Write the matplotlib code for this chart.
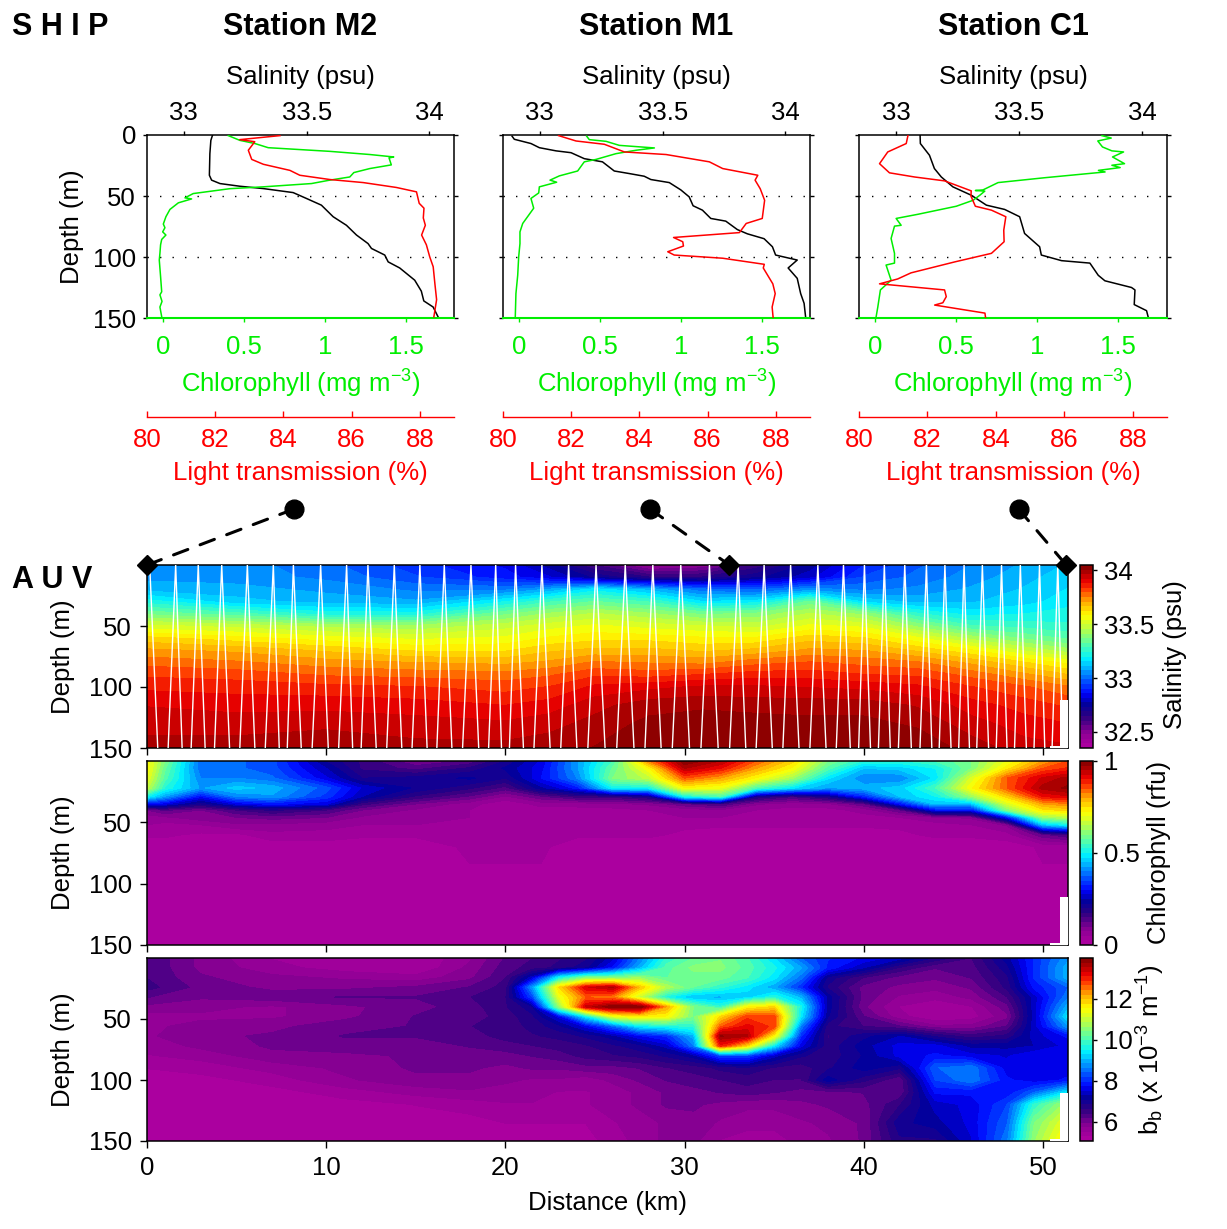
import numpy as np
import matplotlib
matplotlib.use('Agg')
import matplotlib.pyplot as plt
from matplotlib.colors import LinearSegmentedColormap
from matplotlib.patches import ConnectionPatch, Rectangle

plt.rcParams['font.family'] = ['Liberation Sans', 'DejaVu Sans']
plt.rcParams['mathtext.default'] = 'regular'

# ---- ship profiles ----
stations = ['Station M2', 'Station M1', 'Station C1']

m2_sal = [33.117, 33.110, 33.106, 33.104, 33.113, 33.147, 33.228, 33.323, 33.445, 33.499, 33.560, 33.608, 33.662, 33.703, 33.750, 33.764, 33.818, 33.832, 33.879, 33.940, 33.967, 33.977, 34.015, 34.035]
m2_sal_z = [0, 4.4, 15.3, 33, 37, 39.8, 42, 43.9, 47.2, 52, 57.5, 67, 74, 82, 89, 93, 98.4, 104, 109, 119, 128, 136, 141, 149]
m2_chl = [.403, .475, .568, .650, 1.031, 1.279, 1.427, 1.398, 1.412, 1.279, 1.180, 1.155, 1.031, .918, .619, .413, .186, .135, .176, .094, .042, .017, .001, .011, -.003, .017, -.009, -.016, -.020, -.024, -.016, -.009, -.020, -.007, -.020, -.009]
m2_chl_z = [.5, 4.4, 7, 10.4, 13.4, 16, 18, 18.8, 24.5, 27.5, 30.8, 34.4, 37, 39.8, 42.5, 44, 48, 51.5, 52.4, 55.6, 61, 67, 73, 76, 79.4, 82, 85.6, 90, 97, 102.5, 116, 128.5, 131, 136.4, 141, 149]
m2_lt = [83.90, 82.72, 83.16, 82.97, 83.07, 83.41, 84.19, 84.48, 85.36, 86.34, 87.31, 87.90, 87.98, 88.12, 88.10, 88.16, 88.05, 88.19, 88.29, 88.39, 88.44, 88.49, 88.41]
m2_lt_z = [.5, 3.8, 5.5, 12.5, 20, 24, 29, 33, 36.5, 39, 43, 46.6, 56, 60, 68, 74, 82, 90, 100, 108, 122, 135, 149]

m1_sal = [32.887, 32.896, 32.964, 32.998, 33.066, 33.127, 33.181, 33.255, 33.303, 33.364, 33.425, 33.452, 33.527, 33.574, 33.608, 33.624, 33.662, 33.696, 33.757, 33.804, 33.845, 33.913, 33.947, 33.960, 34.048, 34.011, 34.048, 34.062, 34.076, 34.082]
m1_sal_z = [1, 3.5, 7, 10.4, 13, 14.5, 19.4, 22, 29.5, 31.6, 33.8, 36.5, 39, 45, 50.7, 58, 61.6, 68.4, 70.6, 77.5, 81, 85, 91.6, 98.4, 102.5, 109, 117.5, 130, 138, 149]
m1_chl = [.418, .434, .538, .620, .837, .723, .599, .476, .403, .362, .249, .191, .232, .125, .121, .073, .090, .059, .022, .005, .005, -.003, -.009, -.020, -.024]
m1_chl_z = [1, 3.8, 5.2, 8.5, 10.6, 12.5, 15.3, 20, 22, 29.5, 33.5, 37, 38.7, 42.5, 47.5, 52, 60, 65.7, 72.5, 79.4, 89, 100, 115, 130, 149]
m1_lt = [81.63, 82.14, 82.97, 83.56, 84.78, 86.05, 86.44, 87.47, 87.39, 87.54, 87.67, 87.60, 87.13, 86.93, 85.00, 85.27, 85.29, 84.83, 85.02, 86.44, 87.66, 87.63, 87.91, 87.98, 87.89, 87.92]
m1_lt_z = [.5, 4.9, 7.6, 13.9, 16, 22, 27.5, 33, 37, 44, 53.5, 68.4, 72.5, 80, 84, 87.5, 91, 95.7, 98.4, 101, 106, 109, 122, 130, 141, 150]

c1_sal = [33.098, 33.099, 33.136, 33.156, 33.184, 33.231, 33.306, 33.367, 33.441, 33.502, 33.522, 33.583, 33.590, 33.672, 33.787, 33.821, 33.848, 33.956, 33.970, 33.967, 34.017, 34.024]
c1_sal_z = [.5, 7, 16.6, 27.5, 34.4, 42.5, 49.4, 57.5, 61, 67, 80.7, 91.6, 98.4, 103, 105, 115, 119.5, 125, 127, 139, 144, 149.5]
c1_chl = [1.398, 1.456, 1.373, 1.402, 1.460, 1.532, 1.464, 1.538, 1.460, 1.511, 1.377, 1.418, 1.047, .758, .665, .618, .676, .645, .604, .500, .263, .129, .160, .119, .098, .119, .119, .067, .098, .032, .016, .005]
c1_chl_z = [.5, 2.5, 4.9, 9.8, 13, 13.9, 18, 23.5, 24.8, 26.7, 29, 30.3, 35, 39, 45, 45.5, 46, 49.4, 53.5, 58.4, 65, 68.4, 74, 74.7, 84.8, 97, 105, 106.6, 119, 127, 141, 149.5]
c1_lt = [81.43, 81.38, 80.84, 80.60, 80.89, 81.62, 82.50, 83.28, 83.27, 83.40, 83.87, 84.29, 84.23, 84.24, 83.87, 82.80, 81.52, 81.13, 80.60, 82.50, 82.55, 82.45, 82.21, 83.68, 83.70]
c1_lt_z = [.5, 7, 13.9, 23.5, 31, 34.4, 37.6, 45.8, 50, 58.4, 61.6, 67, 78, 87.5, 97, 104, 113, 118, 122, 127, 132.5, 137.5, 139.4, 146, 150]

ship_profiles = [
    (m2_sal, m2_sal_z, m2_chl, m2_chl_z, m2_lt, m2_lt_z),
    (m1_sal, m1_sal_z, m1_chl, m1_chl_z, m1_lt, m1_lt_z),
    (c1_sal, c1_sal_z, c1_chl, c1_chl_z, c1_lt, c1_lt_z),
]

sal_ticks = [33, 33.5, 34]
chl_ticks = [0, 0.5, 1, 1.5]
lt_ticks = [80, 82, 84, 86, 88]
depth_ticks = [0, 50, 100, 150]

# where each ship station sits on the AUV section (km)
station_km = [0, 32.5, 51.3]

# ---- AUV sections ----
sal_km = [0, 5, 10, 15, 20, 22.5, 25, 28, 31, 34, 37, 40, 43, 46, 49, 51.4]
sal_depth = [0, 10, 20, 30, 40, 50, 60, 70, 80, 90, 100, 115, 130, 150]
auv_sal = [
    [33.05, 33.05, 33.00, 32.92, 32.85, 32.75, 32.60, 32.45, 32.48, 32.62, 32.75, 32.90, 32.98, 33.03, 33.08, 33.12],
    [33.06, 33.05, 33.02, 32.95, 32.88, 32.82, 32.72, 32.65, 32.65, 32.72, 32.80, 32.95, 33.00, 33.05, 33.10, 33.14],
    [33.10, 33.09, 33.06, 33.02, 33.02, 33.08, 33.18, 33.10, 33.00, 32.98, 33.05, 33.02, 33.04, 33.08, 33.12, 33.16],
    [33.22, 33.13, 33.10, 33.08, 33.20, 33.28, 33.33, 33.28, 33.16, 33.18, 33.34, 33.15, 33.10, 33.11, 33.14, 33.18],
    [33.36, 33.30, 33.22, 33.22, 33.36, 33.42, 33.46, 33.42, 33.36, 33.38, 33.46, 33.40, 33.25, 33.18, 33.20, 33.22],
    [33.51, 33.48, 33.44, 33.42, 33.48, 33.52, 33.55, 33.52, 33.50, 33.48, 33.55, 33.53, 33.40, 33.29, 33.27, 33.25],
    [33.64, 33.60, 33.56, 33.53, 33.55, 33.59, 33.61, 33.61, 33.59, 33.59, 33.65, 33.63, 33.55, 33.44, 33.36, 33.32],
    [33.72, 33.70, 33.66, 33.62, 33.62, 33.66, 33.68, 33.68, 33.66, 33.68, 33.72, 33.71, 33.66, 33.59, 33.49, 33.43],
    [33.78, 33.76, 33.73, 33.71, 33.70, 33.72, 33.76, 33.75, 33.74, 33.78, 33.80, 33.78, 33.76, 33.70, 33.63, 33.57],
    [33.83, 33.82, 33.79, 33.78, 33.77, 33.79, 33.83, 33.82, 33.84, 33.86, 33.86, 33.84, 33.83, 33.78, 33.72, 33.67],
    [33.87, 33.86, 33.85, 33.84, 33.82, 33.84, 33.89, 33.91, 33.93, 33.93, 33.92, 33.91, 33.89, 33.84, 33.80, 33.76],
    [33.92, 33.91, 33.91, 33.90, 33.88, 33.90, 33.95, 33.99, 34.00, 33.99, 33.99, 33.99, 33.96, 33.90, 33.86, 33.83],
    [33.95, 33.94, 33.95, 33.94, 33.93, 33.95, 33.98, 34.02, 34.03, 34.03, 34.02, 34.02, 34.00, 33.94, 33.90, 33.88],
    [33.98, 33.99, 34.01, 33.98, 33.98, 33.99, 34.01, 34.05, 34.06, 34.06, 34.05, 34.06, 34.04, 33.99, 33.94, 33.93],
]

chl_km = [0, 1, 3, 5, 7, 10, 12, 15, 18, 20, 22, 24, 26, 28, 30, 32, 34, 36, 38, 40, 42, 44, 46, 48, 50, 51.4]
chl_depth = [0, 6, 14, 22, 29, 35, 40, 46, 52, 60, 70, 150]
auv_chl = [
    [.72, .60, .38, .38, .36, .22, .17, .10, .13, .20, .28, .42, .55, .82, 1.0, .95, .85, .76, .60, .52, .52, .55, .60, .70, .80, .85],
    [.72, .58, .38, .38, .36, .25, .17, .14, .18, .23, .29, .42, .58, .72, .95, .90, .80, .72, .56, .45, .46, .50, .60, .74, .85, .88],
    [.70, .56, .40, .40, .38, .28, .20, .21, .23, .20, .30, .40, .60, .66, .85, .80, .72, .63, .48, .40, .40, .48, .68, .85, .93, .96],
    [.66, .52, .42, .46, .44, .36, .27, .22, .18, .14, .24, .31, .50, .50, .72, .70, .55, .48, .42, .44, .46, .55, .72, .85, .96, .98],
    [.50, .42, .30, .40, .42, .34, .25, .17, .12, .07, .12, .16, .16, .20, .50, .55, .20, .15, .20, .32, .45, .50, .62, .76, .90, .92],
    [.30, .28, .20, .28, .31, .28, .16, .10, .06, .03, .06, .06, .07, .08, .12, .15, .08, .06, .07, .12, .30, .45, .45, .68, .80, .82],
    [.10, .13, .10, .15, .18, .15, .10, .07, .05, .04, .04, .04, .04, .05, .06, .07, .05, .04, .04, .06, .12, .30, .30, .60, .74, .76],
    [.06, .07, .09, .10, .11, .10, .07, .06, .05, .04, .04, .04, .04, .04, .05, .05, .04, .04, .04, .04, .05, .07, .08, .30, .62, .65],
    [.05, .04, .05, .07, .07, .06, .05, .05, .04, .04, .04, .04, .04, .04, .03, .03, .03, .03, .03, .03, .03, .04, .05, .08, .45, .50],
    [.03, .03, .02, .02, .04, .04, .03, .03, .03, .03, .03, .03, .03, .03, .02, .01, .01, .01, .01, .01, .02, .03, .03, .04, .12, .15],
    [.01, .01, .01, .01, .01, .01, .01, .01, .03, .03, .03, .01, .01, .01, .01, .01, .01, .01, .01, .01, .01, .01, .01, .01, .03, .03],
    [.00, .00, .00, .00, .00, .00, .00, .00, .00, .00, .00, .00, .00, .00, .00, .00, .00, .00, .00, .00, .00, .00, .00, .00, .00, .00],
]

bb_km = [0, 3, 7, 11, 15, 18, 20, 21.5, 23, 24.5, 26, 27.5, 29, 30.5, 32, 33.5, 35, 36.5, 38, 40, 42, 44, 46, 48, 49.5, 51.4]
bb_depth = [0, 8, 16, 24, 32, 40, 48, 56, 64, 72, 80, 90, 100, 110, 120, 135, 150]
auv_bb = [
    [6.4, 5.9, 5.5, 5.3, 5.3, 5.7, 6.2, 6.4, 6.6, 6.8, 7.4, 8.6, 9.8, 10.2, 10.4, 10.0, 9.3, 8.4, 8.0, 7.7, 7.4, 6.8, 6.4, 7.2, 8.0, 8.8],
    [6.4, 5.9, 5.6, 5.4, 5.3, 5.8, 6.3, 6.5, 6.7, 7.0, 7.8, 9.0, 10.1, 10.5, 10.5, 10.1, 9.6, 8.9, 7.9, 7.3, 6.6, 6.2, 6.3, 7.0, 8.0, 9.0],
    [6.4, 6.0, 5.8, 5.7, 5.6, 5.9, 6.4, 7.4, 9.5, 10.4, 10.4, 10.6, 10.2, 10.3, 10.3, 10.0, 9.4, 8.5, 7.0, 6.4, 6.1, 6.0, 6.2, 6.8, 8.0, 9.0],
    [6.5, 6.1, 5.9, 5.9, 6.0, 6.2, 6.5, 8.8, 11.8, 13.3, 13.6, 12.0, 10.8, 10.2, 9.8, 9.4, 8.9, 8.0, 6.8, 6.1, 5.9, 5.8, 6.0, 6.7, 7.8, 8.4],
    [6.2, 6.0, 6.1, 6.2, 6.2, 6.4, 6.6, 8.2, 11.3, 12.6, 12.4, 11.0, 9.6, 9.0, 9.0, 9.2, 9.7, 9.0, 7.2, 6.1, 5.7, 5.6, 5.8, 6.4, 7.4, 8.6],
    [5.9, 5.8, 5.7, 5.9, 6.1, 6.3, 6.6, 7.0, 10.6, 13.4, 14.0, 14.0, 12.2, 10.4, 9.8, 11.5, 11.8, 9.6, 7.2, 6.0, 5.5, 5.3, 5.5, 6.1, 7.4, 9.0],
    [5.6, 5.7, 5.7, 5.9, 6.2, 6.3, 6.5, 6.8, 7.6, 9.4, 11.2, 11.6, 11.5, 10.4, 11.8, 12.8, 12.8, 9.4, 7.1, 6.2, 5.6, 5.3, 5.4, 5.9, 7.4, 9.4],
    [5.7, 5.8, 5.9, 6.1, 6.2, 6.4, 6.5, 6.7, 7.0, 7.6, 8.4, 9.4, 9.6, 9.8, 12.6, 13.2, 12.8, 8.6, 6.7, 6.4, 6.2, 5.8, 5.8, 6.2, 7.4, 8.8],
    [5.7, 5.9, 6.0, 6.2, 6.2, 6.3, 6.5, 6.6, 6.7, 6.9, 7.2, 7.7, 8.0, 9.0, 13.8, 13.6, 11.5, 8.0, 6.6, 7.0, 7.3, 6.8, 6.5, 6.7, 7.4, 7.8],
    [5.6, 5.8, 6.0, 6.1, 6.1, 6.2, 6.3, 6.4, 6.5, 6.6, 6.8, 7.0, 7.4, 8.6, 13.0, 11.8, 9.4, 7.6, 6.7, 7.2, 7.6, 7.6, 7.2, 7.2, 7.3, 7.6],
    [5.5, 5.6, 5.9, 5.9, 6.0, 6.1, 6.1, 6.2, 6.3, 6.5, 6.6, 6.7, 6.9, 7.2, 8.2, 8.2, 7.4, 6.9, 6.7, 7.1, 7.6, 7.8, 7.6, 7.5, 7.7, 7.6],
    [5.3, 5.4, 5.6, 5.8, 6.0, 6.0, 5.9, 6.0, 6.0, 6.1, 6.1, 6.2, 6.4, 6.5, 6.7, 6.8, 6.6, 6.5, 6.8, 7.2, 6.9, 8.4, 8.6, 7.6, 7.6, 7.6],
    [5.2, 5.2, 5.4, 5.7, 5.9, 5.9, 5.8, 5.7, 5.7, 5.6, 5.8, 6.0, 6.2, 6.3, 6.4, 6.5, 6.4, 6.4, 7.2, 6.7, 6.2, 8.2, 8.6, 7.8, 7.6, 7.8],
    [5.1, 5.1, 5.2, 5.4, 5.6, 5.7, 5.6, 5.6, 5.5, 5.5, 5.6, 5.8, 6.0, 6.1, 6.2, 6.3, 6.2, 6.1, 6.1, 6.2, 6.2, 7.8, 7.8, 7.8, 8.4, 9.4],
    [5.1, 5.1, 5.1, 5.2, 5.3, 5.4, 5.5, 5.5, 5.5, 5.5, 5.6, 5.8, 6.0, 6.0, 5.9, 5.8, 5.8, 5.9, 6.0, 6.1, 6.6, 7.4, 7.6, 8.2, 9.8, 10.8],
    [5.1, 5.1, 5.1, 5.1, 5.2, 5.2, 5.3, 5.3, 5.3, 5.3, 5.5, 5.6, 5.8, 5.9, 5.7, 5.6, 5.6, 5.7, 5.8, 6.0, 7.0, 7.2, 7.6, 8.4, 10.4, 11.4],
    [5.1, 5.1, 5.1, 5.1, 5.1, 5.1, 5.1, 5.1, 5.1, 5.2, 5.4, 5.6, 5.8, 5.8, 5.5, 5.4, 5.4, 5.6, 5.7, 6.0, 6.8, 6.8, 7.5, 8.6, 10.6, 11.8],
]

# AUV track: km of each turn at the surface and at the bottom of the dive
tow_top_km = [0.15, 1.60, 2.86, 4.17, 5.60, 7.05, 8.17, 9.69, 11.14, 12.33, 13.80, 15.23, 16.59, 18.08, 19.46, 20.57, 22.04, 23.53, 25.06, 26.69, 28.23, 29.79, 31.39, 32.99, 34.44, 35.92, 37.44, 38.87, 40.04, 41.15, 42.29, 43.50, 44.53, 45.60, 46.62, 47.69, 48.74, 49.81, 50.83]
tow_bot_km = [0.9, 2.2, 3.5, 4.9, 6.3, 7.6, 8.9, 10.4, 11.7, 13.1, 14.5, 15.9, 17.3, 18.8, 20.0, 21.3, 22.8, 24.3, 25.9, 27.5, 29.0, 30.6, 32.2, 33.7, 35.2, 36.7, 38.2, 39.5, 40.6, 41.7, 42.9, 44.0, 45.1, 46.1, 47.2, 48.2, 49.3, 50.3, 51.3]
tow_top_depth = 0
tow_bot_depth = 250

jet2 = LinearSegmentedColormap.from_list('jet2', [
    (0.00, (0.69, 0.00, 0.63)), (0.08, (0.55, 0.00, 0.58)), (0.17, (0.18, 0.00, 0.50)),
    (0.24, (0.00, 0.00, 0.62)), (0.30, (0.00, 0.00, 1.00)), (0.40, (0.00, 0.50, 1.00)),
    (0.49, (0.00, 0.95, 1.00)), (0.57, (0.35, 1.00, 0.65)), (0.67, (0.80, 1.00, 0.20)),
    (0.725, (1.00, 1.00, 0.00)), (0.81, (1.00, 0.62, 0.00)), (0.87, (1.00, 0.20, 0.00)),
    (0.915, (0.90, 0.00, 0.00)), (1.00, (0.50, 0.00, 0.00)),
])

W, H = 1227, 1229
fig = plt.figure(figsize=(W / 100, H / 100), dpi=100)


def px_axes(x0, y0, x1, y1):
    return fig.add_axes([x0 / W, 1 - y1 / H, (x1 - x0) / W, (y1 - y0) / H])


FS = 18.5
GREEN = '#00ee00'
RED = '#ff0000'
LW = 1.1

# ---- ship panels ----
ship_x = [(147, 454), (503, 810), (859, 1167)]
ship_axes = []
for n, (x0, x1) in enumerate(ship_x):
    sal, sal_z, chl, chl_z, lt, lt_z = ship_profiles[n]
    ax = px_axes(x0, 135, x1, 318)
    ship_axes.append(ax)
    ax.set_xlim(32.85, 34.1)
    ax.set_ylim(150, 0)
    for d in depth_ticks[1:]:
        ax.axhline(d, color='k', lw=1, ls=(0, (1, 8)), zorder=1)
    ax.plot(sal, sal_z, color='k', lw=LW, zorder=3)
    ax.set_yticks(depth_ticks)
    ax.tick_params(axis='y', labelsize=FS, width=1, length=3, pad=5, left=True, right=True, labelleft=n == 0)
    ax.spines['bottom'].set_visible(False)
    for s in ['top', 'left', 'right']:
        ax.spines[s].set_linewidth(1.1)
    if n == 0:
        ax.set_ylabel('Depth (m)', fontsize=FS, labelpad=6)

    ax2 = ax.twiny()
    ax2.set_xlim(-0.1, 1.8)
    ax2.plot(chl, chl_z, color=GREEN, lw=LW, zorder=3)
    ax2.set_ylim(150, 0)
    ax2.xaxis.tick_bottom()
    ax2.set_xticks(chl_ticks)
    ax2.set_xticklabels(['0', '0.5', '1', '1.5'])
    ax2.tick_params(axis='x', colors=GREEN, labelsize=FS, width=1, length=3, pad=9)
    for s in ['top', 'left', 'right']:
        ax2.spines[s].set_visible(False)
    ax2.spines['bottom'].set_color(GREEN)
    ax2.spines['bottom'].set_linewidth(1.5)

    ax3 = ax.twiny()
    ax3.set_xlim(80, 89)
    ax3.plot(lt, lt_z, color=RED, lw=LW, zorder=3)
    ax3.set_ylim(150, 0)
    ax3.xaxis.tick_bottom()
    ax3.set_xticks(lt_ticks)
    ax3.tick_params(axis='x', colors=RED, labelsize=FS, width=1, length=4, pad=8, direction='in')
    for s in ['top', 'left', 'right']:
        ax3.spines[s].set_visible(False)
    ax3.spines['bottom'].set_position(('outward', 71.5))
    ax3.spines['bottom'].set_color(RED)
    ax3.spines['bottom'].set_linewidth(1)

    # twiny moved the salinity ticks to the bottom, put them back on top
    ax.xaxis.tick_top()
    ax.set_xticks(sal_ticks)
    ax.set_xticklabels(['33', '33.5', '34'])
    ax.tick_params(axis='x', labelsize=FS, width=1, length=3, pad=4)

    xc = (x0 + x1) / 2 / W
    fig.text(xc, 1 - 27 / H, stations[n], fontsize=22, fontweight='bold', ha='center', va='center')
    fig.text(xc, 1 - 77 / H, 'Salinity (psu)', fontsize=FS, ha='center', va='center')
    fig.text(xc, 1 - 384 / H, 'Chlorophyll (mg m$^{-3}$)', fontsize=FS, color=GREEN, ha='center', va='center')
    fig.text(xc, 1 - 473 / H, 'Light transmission (%)', fontsize=FS, color=RED, ha='center', va='center')

fig.text(12 / W, 1 - 27 / H, 'S H I P', fontsize=22, fontweight='bold', ha='left', va='center')
fig.text(12 / W, 1 - 580 / H, 'A U V', fontsize=22, fontweight='bold', ha='left', va='center')

# ---- AUV panels ----
panels = [
    (565, 748, sal_km, sal_depth, auv_sal, 32.35, 34.05, [32.5, 33, 33.5, 34], ['32.5', '33', '33.5', '34']),
    (761, 945, chl_km, chl_depth, auv_chl, 0.0, 1.0, [0, 0.5, 1], ['0', '0.5', '1']),
    (958, 1141, bb_km, bb_depth, auv_bb, 5.07, 14.0, [6, 8, 10, 12], ['6', '8', '10', '12']),
]
auv_axes = []
for n, (y0, y1, km, dep, vals, lo, hi, cticks, clabs) in enumerate(panels):
    ax = px_axes(147, y0, 1068, y1)
    auv_axes.append(ax)
    levels = np.linspace(lo, hi, 41)
    cf = ax.contourf(km, dep, np.clip(vals, lo, hi - 1e-3), levels=levels, cmap=jet2)
    ax.set_xlim(0, 51.4)
    ax.set_ylim(150, 0)
    ax.set_xticks([0, 10, 20, 30, 40, 50])
    ax.set_yticks([50, 100, 150])
    ax.tick_params(axis='both', labelsize=FS, width=1, length=5, pad=6)
    ax.tick_params(axis='x', labelbottom=n == 2)
    ax.set_ylabel('Depth (m)', fontsize=FS, labelpad=10)
    for s in ax.spines.values():
        s.set_linewidth(1.1)
    ax.add_patch(Rectangle((50.94, 111), 0.5, 39, color='w', lw=0, zorder=5))
    ax.add_patch(Rectangle((50.4, 148.5), 0.6, 1.5, color='w', lw=0, zorder=5))

    cax = px_axes(1080, y0, 1093, y1)
    cb = fig.colorbar(cf, cax=cax)
    cb.set_ticks(cticks)
    cb.set_ticklabels(clabs)
    cb.ax.minorticks_off()
    cb.ax.tick_params(labelsize=FS, width=1, length=3, pad=5)
    cb.outline.set_linewidth(1.1)

auv_axes[2].set_xlabel('Distance (km)', fontsize=FS, labelpad=8)

fig.text(1175 / W, 1 - 655 / H, 'Salinity (psu)', fontsize=FS, rotation=90, ha='center', va='center')
fig.text(1159 / W, 1 - 852 / H, 'Chlorophyll (rfu)', fontsize=FS, rotation=90, ha='center', va='center')
fig.text(1151 / W, 1 - 1050 / H, 'b$_b$ (x 10$^{-3}$ m$^{-1}$)', fontsize=FS, rotation=90, ha='center', va='center')

# AUV track on salinity section
tow_km = np.empty(len(tow_top_km) + len(tow_bot_km))
tow_km[0::2] = tow_top_km
tow_km[1::2] = tow_bot_km
tow_z = np.empty(len(tow_km))
tow_z[0::2] = tow_top_depth
tow_z[1::2] = tow_bot_depth
auv_axes[0].plot(tow_km, tow_z, color='w', lw=1, zorder=4)

# station markers and dashed links
station_ax_x = [0.479, 0.479, 0.518]
station_ax_y = -1.044
for n, km in enumerate(station_km):
    top = ship_axes[n]
    top.plot(station_ax_x[n], station_ax_y, 'o', color='k', ms=13.5, transform=top.transAxes, clip_on=False, zorder=10)
    auv_axes[0].plot(km, 0, 'D', color='k', ms=10.5, clip_on=False, zorder=10)
    link = ConnectionPatch(xyA=(station_ax_x[n], station_ax_y), coordsA=top.transAxes,
                           xyB=(km, 0), coordsB=auv_axes[0].transData,
                           color='k', lw=2.2, ls=(0, (5, 4.3)), zorder=9)
    fig.add_artist(link)

fig.savefig('out.png', dpi=100)
